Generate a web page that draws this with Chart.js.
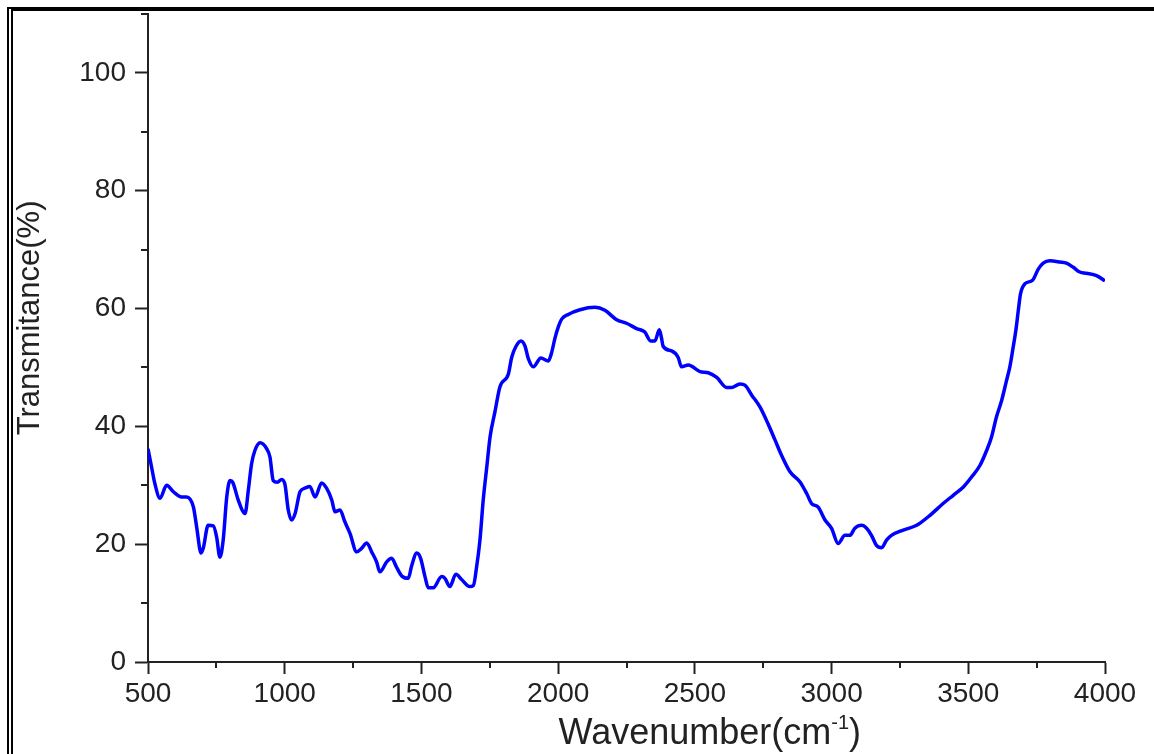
<!DOCTYPE html>
<html>
<head>
<meta charset="utf-8">
<title>FTIR - Transmitance</title>
<script src="https://cdn.jsdelivr.net/npm/chart.js@4.4.1/dist/chart.umd.min.js"></script>
<style>
    html, body { margin: 0; padding: 0; background: #fff; overflow: hidden; }
    #marco {
        position: absolute; left: 7px; top: 7px; width: 1200px; height: 800px;
        border-top: 4px solid #000; border-left: 6px double #000;
        pointer-events: none;
    }
    canvas { display: block; }
</style>
</head>
<body>
<canvas id="ftirChart" width="1154" height="754"></canvas>
<div id="marco"></div>
<script>
const wavenumbers = [
    500, 513, 525, 544, 568, 593, 623, 641, 666, 678, 694, 702, 720, 739, 751, 763, 775, 788, 800, 810,
    830, 855, 867, 879, 891, 910, 934, 946, 958, 973, 989, 1001, 1013, 1025, 1038, 1056, 1074, 1092, 1111, 1135,
    1153, 1172, 1184, 1202, 1220, 1239, 1263, 1281, 1300, 1318, 1336, 1348, 1373, 1391, 1409, 1428, 1452, 1464, 1483, 1497,
    1513, 1525, 1543, 1574, 1586, 1604, 1626, 1647, 1677, 1690, 1702, 1714, 1726, 1739, 1751, 1769, 1787, 1818, 1830, 1846,
    1864, 1879, 1891, 1909, 1937, 1964, 1976, 1988, 2000, 2013, 2037, 2080, 2135, 2171, 2214, 2250, 2287, 2317, 2338, 2354,
    2370, 2378, 2384, 2415, 2439, 2451, 2476, 2519, 2549, 2580, 2616, 2634, 2665, 2683, 2708, 2738, 2768, 2793, 2817, 2848,
    2884, 2909, 2927, 2951, 2976, 3000, 3024, 3049, 3067, 3085, 3110, 3128, 3146, 3164, 3183, 3201, 3219, 3262, 3311, 3360,
    3408, 3445, 3482, 3512, 3543, 3567, 3585, 3603, 3622, 3640, 3652, 3664, 3674, 3683, 3691, 3707, 3735, 3756, 3774, 3798,
    3835, 3859, 3884, 3908, 3932, 3969, 4000
];
const transmitance = [
    36.2, 33.1, 30.3, 27.8, 30.0, 28.9, 28.0, 28.0, 26.3, 22.9, 18.5, 19.3, 23.2, 23.1, 21.2, 17.8, 20.7, 28.0, 30.8, 30.5,
    27.5, 25.2, 29.2, 33.7, 35.9, 37.2, 36.2, 34.8, 30.8, 30.5, 31.0, 30.1, 25.8, 24.1, 25.2, 28.9, 29.5, 29.8, 28.0, 30.4,
    29.5, 27.5, 25.5, 25.8, 23.8, 21.8, 18.7, 19.3, 20.2, 18.7, 17.0, 15.3, 17.0, 17.6, 16.1, 14.6, 14.2, 16.3, 18.5, 17.6,
    14.5, 12.6, 12.6, 14.5, 14.2, 12.8, 14.9, 14.0, 12.8, 13.0, 16.2, 20.7, 27.5, 33.1, 38.2, 42.5, 46.7, 48.9, 51.7, 53.6,
    54.5, 53.6, 51.5, 50.1, 51.6, 51.1, 52.5, 54.9, 56.8, 58.2, 59.0, 59.8, 60.2, 59.7, 58.1, 57.5, 56.6, 56.0, 54.5, 54.5,
    56.4, 55.0, 53.6, 52.8, 51.7, 50.1, 50.4, 49.3, 49.1, 48.3, 46.6, 46.6, 47.2, 47.0, 45.3, 43.3, 40.4, 37.7, 35.1, 32.3,
    30.6, 28.6, 26.9, 26.3, 24.1, 22.7, 20.1, 21.5, 21.5, 22.7, 23.2, 22.7, 21.5, 19.8, 19.4, 20.7, 21.5, 22.4, 23.2, 24.9,
    26.9, 28.3, 29.7, 31.4, 33.4, 35.9, 38.2, 41.6, 44.4, 47.8, 50.1, 53.4, 56.3, 59.7, 62.5, 64.2, 64.8, 66.7, 67.7, 68.1,
    67.9, 67.7, 67.0, 66.2, 66.0, 65.6, 64.7
];

// Ejes: marcas principales y secundarias
const xMajorTicks = [500, 1000, 1500, 2000, 2500, 3000, 3500, 4000];
const xMinorTicks = [750, 1250, 1750, 2250, 2750, 3250, 3750];
const yMajorTicks = [0, 20, 40, 60, 80, 100];
const yMinorTicks = [10, 30, 50, 70, 90, 110];

const xTitle = 'Wavenumber(cm';
const xTitleSup = '-1';
const yTitle = 'Transmitance(%)';

const fuente = '"Liberation Sans", Arial, sans-serif';
const colorEje = '#222';

// Marcas secundarias y titulos de ejes (con superindice)
const ejesPlugin = {
    id: 'ejesPlugin',
    afterDraw(chart) {
        const c = chart.ctx;
        const xs = chart.scales.x;
        const ys = chart.scales.y;
        const area = chart.chartArea;
        c.save();
        c.strokeStyle = colorEje;
        c.lineWidth = 2;
        xMinorTicks.forEach(v => {
            const px = Math.round(xs.getPixelForValue(v));
            c.beginPath();
            c.moveTo(px, area.bottom);
            c.lineTo(px, area.bottom + 6);
            c.stroke();
        });
        yMinorTicks.forEach(v => {
            const py = Math.round(ys.getPixelForValue(v));
            c.beginPath();
            c.moveTo(area.left - 7, py);
            c.lineTo(area.left, py);
            c.stroke();
        });

        // titulo eje x
        c.fillStyle = colorEje;
        c.textBaseline = 'alphabetic';
        c.textAlign = 'left';
        c.font = '36px ' + fuente;
        const w1 = c.measureText(xTitle).width;
        const w3 = c.measureText(')').width;
        c.font = '20px ' + fuente;
        const w2 = c.measureText(xTitleSup).width;
        const total = w1 + w2 + w3;
        const cx = area.left + (area.right - area.left) * 0.587;
        const base = area.bottom + 82;
        let x0 = cx - total / 2;
        c.font = '36px ' + fuente;
        c.fillText(xTitle, x0, base);
        c.font = '20px ' + fuente;
        c.fillText(xTitleSup, x0 + w1, base - 15);
        c.font = '36px ' + fuente;
        c.fillText(')', x0 + w1 + w2, base);

        // titulo eje y
        c.translate(30, area.top + (area.bottom - area.top) * 0.469);
        c.rotate(-Math.PI / 2);
        c.textAlign = 'center';
        c.textBaseline = 'middle';
        c.font = '31px ' + fuente;
        c.fillText(yTitle, 0, 0);
        c.restore();
    }
};

const ctx = document.getElementById('ftirChart').getContext('2d');

new Chart(ctx, {
    type: 'line',
    data: {
        datasets: [{
            label: 'Transmitance',
            data: wavenumbers.map((w, i) => ({ x: w, y: transmitance[i] })),
            borderColor: '#0000ff',
            borderWidth: 3.5,
            pointRadius: 0,
            fill: false,
            cubicInterpolationMode: 'monotone'
        }]
    },
    options: {
        responsive: false,
        animation: false,
        layout: { padding: { left: 0, top: 14, right: 49, bottom: 0 } },
        plugins: {
            legend: { display: false },
            tooltip: { enabled: false }
        },
        scales: {
            x: {
                type: 'linear',
                min: 500,
                max: 4000,
                afterFit(scale) {
                    scale.height = 92;
                    scale.paddingLeft = 0;
                    scale.paddingRight = 0;
                },
                afterBuildTicks(scale) { scale.ticks = xMajorTicks.map(v => ({ value: v })); },
                grid: { drawOnChartArea: false, drawTicks: true, tickLength: 12, tickWidth: 2, tickColor: colorEje },
                border: { display: true, color: colorEje, width: 2 },
                ticks: {
                    color: colorEje,
                    padding: 3,
                    maxRotation: 0,
                    callback: v => String(v),
                    font: { family: fuente, size: 28 }
                }
            },
            y: {
                min: 0,
                max: 110,
                afterFit(scale) {
                    scale.width = 148;
                    scale.paddingTop = 0;
                    scale.paddingBottom = 0;
                },
                afterBuildTicks(scale) { scale.ticks = yMajorTicks.map(v => ({ value: v })); },
                grid: { drawOnChartArea: false, drawTicks: true, tickLength: 13, tickWidth: 2, tickColor: colorEje },
                border: { display: true, color: colorEje, width: 2 },
                ticks: {
                    color: colorEje,
                    padding: 9,
                    callback: v => String(v),
                    font: { family: fuente, size: 28 }
                }
            }
        }
    },
    plugins: [ejesPlugin]
});
</script>
</body>
</html>
